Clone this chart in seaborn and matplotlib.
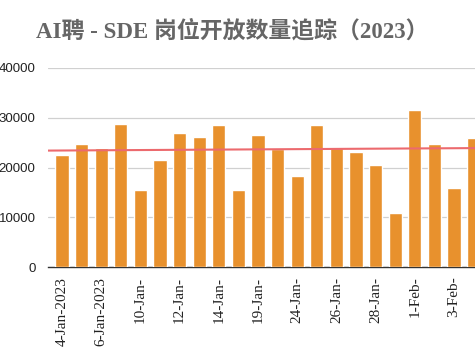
import matplotlib
matplotlib.use("Agg")
import matplotlib.pyplot as plt
import seaborn as sns
import pandas as pd

dates = ["4-Jan-2023", "5-Jan-2023", "6-Jan-2023", "9-Jan-", "10-Jan-", "11-Jan-",
         "12-Jan-", "13-Jan-", "14-Jan-", "17-Jan-", "19-Jan-", "23-Jan-",
         "24-Jan-", "25-Jan-", "26-Jan-", "27-Jan-", "28-Jan-", "31-Jan-",
         "1-Feb-", "2-Feb-", "3-Feb-", "4-Feb-"]
openings = [22600, 24800, 23900, 28700, 15400, 21500, 26900, 26100, 28500, 15400,
            26600, 23700, 18300, 28500, 23900, 23100, 20500, 10900, 31600, 24800,
            15900, 26000]
trend_start, trend_end = 23400, 23900
yticks = [0, 10000, 20000, 30000, 40000]
title = "AI聘 - SDE 岗位开放数量追踪（2023）"

sns.set_theme(style="white")
plt.rcParams["font.family"] = ["Liberation Sans", "Noto Sans CJK SC"]

df = pd.DataFrame({"date": dates, "n": openings})

fig = plt.figure(figsize=(4.75, 3.56), dpi=100)
ax = fig.add_axes([48 / 475, 1 - 267 / 356, 1 - 48 / 475, 199 / 356])
sns.barplot(data=df, x="date", y="n", color="#E8912D", saturation=1, width=0.68,
            ax=ax, zorder=2)
ax.set_xlim(-0.714, 21.07)
ax.set_ylim(0, 40000)
ax.set_yticks(yticks)
ax.set_yticklabels([str(v) for v in yticks], fontsize=9.5, color="#222222")
ax.yaxis.grid(True, color="#D0D0D0", linewidth=0.9, zorder=0)
ax.xaxis.grid(False)
for s in ["top", "right", "left"]:
    ax.spines[s].set_visible(False)
ax.spines["bottom"].set_color("#333333")
ax.spines["bottom"].set_linewidth(1.0)
ax.spines["bottom"].set_zorder(1)
ax.tick_params(axis="y", length=0, pad=9)

xt = list(range(0, len(dates), 2))
ax.set_xticks(xt)
ax.set_xticklabels([dates[i] for i in xt], rotation=90, fontsize=11,
                   family="Liberation Serif", color="#222222")
ax.tick_params(axis="x", length=0, pad=7, bottom=True)
ax.set_xlabel("")
ax.set_ylabel("")

ax.plot([-0.714, 21.07], [trend_start, trend_end], color="#EC6A6E", linewidth=1.5,
        zorder=3)

fig.text(0.49, 0.912, title, ha="center", va="center", fontsize=16.5,
         fontweight="bold", color="#666666",
         family=["Liberation Serif", "Noto Sans CJK SC"])

fig.savefig("out.png", dpi=100)
